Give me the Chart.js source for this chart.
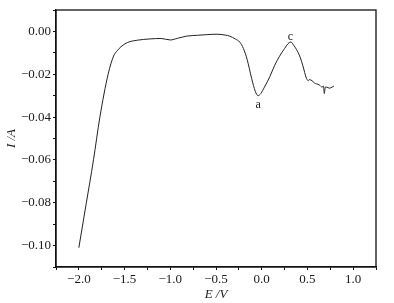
<!DOCTYPE html>
<html lang="en">
<head>
  <meta charset="UTF-8">
  <title>I-E curve</title>
  <script src="https://cdn.jsdelivr.net/npm/chart.js"></script>
  <style>
    body { margin: 0; background: #fff; }
    #wrap { width: 394px; height: 303px; }
  </style>
</head>
<body>
  <div id="wrap">
    <canvas id="myChart" width="394" height="303"></canvas>
  </div>

  <script>
  // potential (V) and current (A)
  const potential = [-2.0, -1.92, -1.84, -1.77, -1.68, -1.62, -1.58, -1.54, -1.47, -1.36, -1.22, -1.10, -1.0,
    -0.92, -0.82, -0.70, -0.60, -0.49, -0.40, -0.35, -0.29, -0.24, -0.20, -0.16, -0.11, -0.07, -0.04, -0.01,
    0.03, 0.09, 0.14, 0.195, 0.25, 0.30, 0.32, 0.35, 0.38, 0.42, 0.45, 0.49, 0.51, 0.52, 0.55, 0.575, 0.60,
    0.63, 0.66, 0.675, 0.685, 0.695, 0.71, 0.74, 0.77, 0.79];
  const current = [-0.101, -0.0805, -0.060, -0.040, -0.020, -0.0115, -0.0090, -0.0072, -0.0052, -0.0041, -0.0035, -0.0033, -0.0040,
    -0.0032, -0.0022, -0.0018, -0.0015, -0.0013, -0.0017, -0.0022, -0.0035, -0.0050, -0.0080, -0.0130, -0.0220, -0.0280, -0.0300, -0.0290,
    -0.0260, -0.0210, -0.0160, -0.0116, -0.0080, -0.0052, -0.0050, -0.0065, -0.0084, -0.0120, -0.0160, -0.0220, -0.0230, -0.0225, -0.0230, -0.0240, -0.0245,
    -0.0250, -0.0260, -0.0255, -0.0290, -0.0260, -0.0260, -0.0265, -0.0260, -0.0255];

  // peak labels
  const peakNames = ['a', 'c'];
  const peakE = [-0.04, 0.315];
  const peakI = [-0.0345, -0.0025];

  const points = potential.map((e, i) => ({ x: e, y: current[i] }));
  const serif = "'Liberation Serif', 'DejaVu Serif', serif";
  const minus = s => s.replace('-', '\u2212');

  // frame on top/right + peak letters
  const extras = {
    id: 'extras',
    afterDraw(chart) {
      const ctx = chart.ctx;
      const a = chart.chartArea;
      ctx.save();
      ctx.strokeStyle = '#111';
      ctx.lineWidth = 1.3;
      ctx.strokeRect(a.left, a.top, a.right - a.left, a.bottom - a.top);
      ctx.fillStyle = '#222';
      ctx.font = '12px ' + serif;
      ctx.textAlign = 'center';
      ctx.textBaseline = 'middle';
      peakNames.forEach((n, i) => {
        ctx.fillText(n, chart.scales.x.getPixelForValue(peakE[i]), chart.scales.y.getPixelForValue(peakI[i]));
      });
      ctx.restore();
    }
  };

  new Chart(document.getElementById('myChart'), {
    type: 'line',
    data: {
      datasets: [{
        data: points,
        borderColor: '#222',
        borderWidth: 1,
        pointRadius: 0,
        cubicInterpolationMode: 'monotone',
        fill: false
      }]
    },
    options: {
      responsive: false,
      animation: false,
      layout: { padding: { top: 10, right: 18, left: 4, bottom: 0 } },
      plugins: { legend: { display: false }, tooltip: { enabled: false } },
      scales: {
        x: {
          type: 'linear',
          min: -2.25,
          max: 1.25,
          afterFit: s => { s.height = 36; },
          border: { color: '#111', width: 1.3 },
          grid: { drawOnChartArea: false, tickLength: 3, color: '#111' },
          ticks: {
            stepSize: 0.25,
            autoSkip: false,
            maxRotation: 0,
            padding: 2,
            color: '#1a1a1a',
            font: { family: serif, size: 13 },
            callback: v => Math.round(v * 4) % 2 === 0 ? minus(v.toFixed(1)) : ''
          },
          title: {
            display: true,
            text: 'E /V',
            color: '#1a1a1a',
            padding: { top: 0, bottom: 1 },
            font: { family: serif, size: 13, style: 'italic' }
          }
        },
        y: {
          min: -0.11,
          max: 0.01,
          afterFit: s => { s.width = 52; },
          border: { color: '#111', width: 1.3 },
          grid: { drawOnChartArea: false, tickLength: 3, color: '#111' },
          ticks: {
            stepSize: 0.01,
            autoSkip: false,
            padding: 2,
            color: '#1a1a1a',
            font: { family: serif, size: 13 },
            callback: v => Math.round(v * 100) % 2 === 0 ? minus(v.toFixed(2)) : ''
          },
          title: {
            display: true,
            text: 'I /A',
            color: '#1a1a1a',
            padding: { top: 0, bottom: 0 },
            font: { family: serif, size: 13, style: 'italic' }
          }
        }
      }
    },
    plugins: [extras]
  });
  </script>
</body>
</html>
